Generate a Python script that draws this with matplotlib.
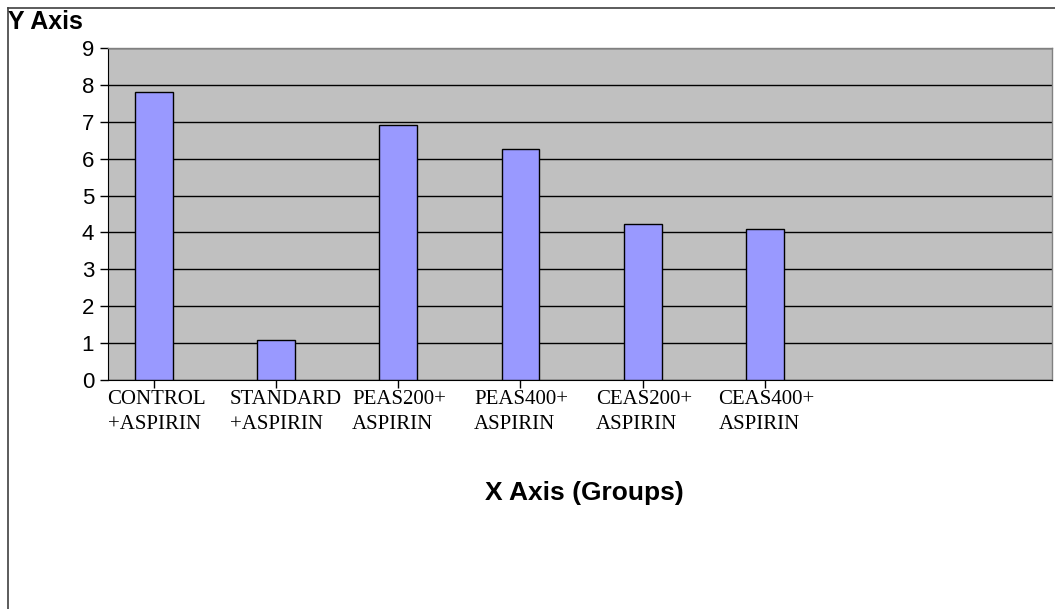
import matplotlib
matplotlib.use("Agg")
import matplotlib.pyplot as plt
from matplotlib.lines import Line2D
import matplotlib.transforms as mtransforms

categories = ["CONTROL\n+ASPIRIN", "STANDARD\n+ASPIRIN", "PEAS200+\nASPIRIN",
              "PEAS400+\nASPIRIN", "CEAS200+\nASPIRIN", "CEAS400+\nASPIRIN"]
values = [7.80, 1.08, 6.90, 6.26, 4.24, 4.08]
y_ticks = list(range(0, 10))

W, H = 1055, 609
fig = plt.figure(figsize=(W / 100, H / 100), dpi=100)
fig.patch.set_facecolor("white")

ax = fig.add_axes([108 / W, 1 - 380 / H, (1052 - 108) / W, (380 - 48) / H])
ax.set_facecolor("#C0C0C0")

x = list(range(len(categories)))
ax.bar(x, values, width=0.31, color="#9999FF", edgecolor="black", linewidth=1.0, zorder=3)

ax.set_ylim(0, 9)
ax.set_xlim(-0.376, 7.35)
ax.set_yticks(y_ticks)
ax.set_yticklabels([str(t) for t in y_ticks], fontsize=16, family="Liberation Sans")
ax.yaxis.grid(True, color="black", linewidth=1.0, zorder=1)
ax.set_axisbelow(True)
ax.tick_params(axis="y", direction="out", length=6, width=1, color="black", pad=4)

ax.set_xticks(x)
ax.set_xticklabels([])
ax.tick_params(axis="x", direction="out", length=6, width=1, color="black")

for side in ["top", "right"]:
    ax.spines[side].set_color("#808080")
    ax.spines[side].set_linewidth(1.0)
ax.spines["left"].set_color("black")
ax.spines["bottom"].set_color("black")

trans = mtransforms.blended_transform_factory(ax.transData, ax.transAxes)
offset = mtransforms.ScaledTranslation(0, -10 / 100, fig.dpi_scale_trans)
for xi, lab in zip(x, categories):
    ax.text(xi - 0.38, 0, lab, transform=trans + offset, ha="left", va="top",
            fontsize=15, family="Liberation Serif", linespacing=1.45)

fig.text(8 / W, 1 - 22 / H, "Y Axis", ha="left", va="center", fontsize=18,
         fontweight="bold", family="Liberation Sans")
fig.text(584 / W, 1 - 493 / H, "X Axis (Groups)", ha="center", va="center", fontsize=19,
         fontweight="bold", family="Liberation Sans")

fig.add_artist(Line2D([8 / W, 8 / W], [0, 1 - 8 / H], transform=fig.transFigure,
                      color="#404040", linewidth=1.2))
fig.add_artist(Line2D([8 / W, 1], [1 - 8 / H, 1 - 8 / H], transform=fig.transFigure,
                      color="#404040", linewidth=1.2))

fig.savefig("out.png", dpi=100)
